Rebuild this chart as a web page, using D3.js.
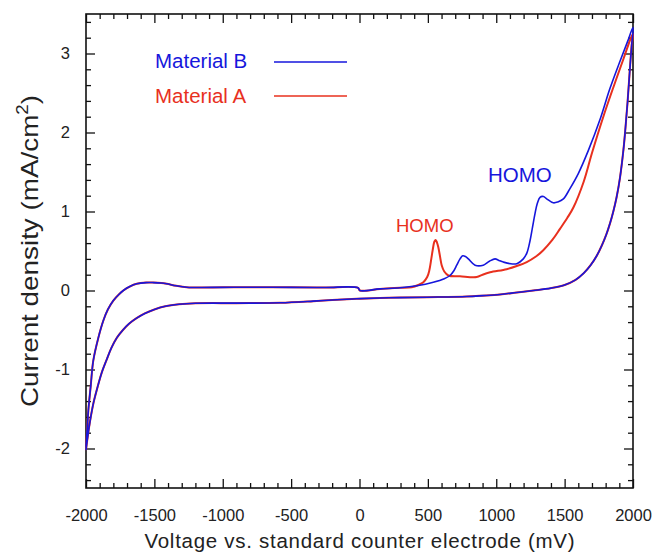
<!DOCTYPE html>
<html>
<head>
<meta charset="utf-8">
<script src="https://cdn.jsdelivr.net/npm/d3@7/dist/d3.min.js"></script>
<style>
  body { margin: 0; background: white; }
  text { font-family: "Liberation Sans", Arial, sans-serif; }
</style>
</head>
<body>
<div id="chart"></div>
<script>
// Data, [mV, mA/cm2]
// the shared left part of the forward scan
var sharedForward = [
  [-2000, -1.98], [-1990, -1.72], [-1983, -1.52], [-1965, -1.2], [-1947, -0.89], [-1910, -0.6],
  [-1873, -0.38], [-1840, -0.24], [-1800, -0.127], [-1760, -0.05], [-1727, 0.0], [-1680, 0.05],
  [-1629, 0.085], [-1560, 0.1], [-1508, 0.1], [-1450, 0.095], [-1410, 0.085], [-1340, 0.06],
  [-1264, 0.042], [-1000, 0.04], [-825, 0.042], [-500, 0.04], [-250, 0.038], [-11, 0.034],
  [3, 0.0], [150, 0.02], [296, 0.034]
]

var materialBForward = [
  [420, 0.06], [540, 0.105], [620, 0.15], [662, 0.19], [690, 0.25], [711, 0.32], [735, 0.4],
  [755, 0.44], [775, 0.43], [796, 0.4], [845, 0.32], [905, 0.32], [950, 0.37], [991, 0.4],
  [1020, 0.38], [1052, 0.36], [1100, 0.34], [1150, 0.34], [1198, 0.4], [1225, 0.48], [1247, 0.63],
  [1265, 0.8], [1283, 0.97], [1300, 1.1], [1320, 1.18], [1345, 1.19], [1369, 1.16], [1417, 1.11],
  [1450, 1.12], [1491, 1.16], [1539, 1.29], [1600, 1.48], [1673, 1.77], [1760, 2.17],
  [1830, 2.55], [1900, 2.88], [1960, 3.15], [2000, 3.33]
]

var materialAForward = [
  [382, 0.042], [430, 0.07], [467, 0.105], [495, 0.17], [510, 0.25], [525, 0.4], [535, 0.51],
  [548, 0.62], [557, 0.64], [566, 0.61], [576, 0.55], [590, 0.42], [601, 0.32], [620, 0.24],
  [650, 0.19], [735, 0.18], [857, 0.17], [900, 0.2], [955, 0.23], [1076, 0.27], [1150, 0.31],
  [1223, 0.36], [1290, 0.43], [1344, 0.51], [1410, 0.64], [1466, 0.78], [1520, 0.92],
  [1564, 1.05], [1640, 1.38], [1700, 1.74], [1783, 2.2], [1856, 2.57], [1930, 2.93],
  [1983, 3.19], [2000, 3.25]
]

// return scan, both materials lie on top of each other
var sharedReverse = [
  [1990, 3.1], [1975, 2.75], [1960, 2.38], [1945, 2.06], [1930, 1.78], [1905, 1.43],
  [1880, 1.18], [1856, 1.0], [1832, 0.85], [1805, 0.71], [1772, 0.57], [1735, 0.44],
  [1690, 0.32], [1640, 0.22], [1580, 0.135], [1500, 0.07], [1400, 0.03], [1271, 0.0],
  [1150, -0.025], [1027, -0.05], [900, -0.065], [784, -0.076], [500, -0.085], [296, -0.09],
  [150, -0.095], [-20, -0.105], [-200, -0.12], [-338, -0.135], [-581, -0.156], [-900, -0.16],
  [-1200, -0.162], [-1320, -0.175], [-1420, -0.2], [-1500, -0.24], [-1570, -0.29],
  [-1630, -0.35], [-1685, -0.42], [-1730, -0.5], [-1775, -0.6], [-1815, -0.73], [-1850, -0.88],
  [-1885, -1.04], [-1915, -1.22], [-1945, -1.42], [-1970, -1.65], [-1990, -1.88], [-2000, -2.02]
]

var xMajorTicks = [-2000, -1500, -1000, -500, 0, 500, 1000, 1500, 2000]
var yMajorTicks = [-2, -1, 0, 1, 2, 3]
var seriesNames = ['Material B', 'Material A']

var blue = '#1616dc'
var red = '#e8301e'

var chart = {
  width: 652,
  height: 552,
  left: 86,
  right: 633,
  top: 14,
  bottom: 488
}

var svg = d3.select('#chart').append('svg')
  .attr('width', chart.width)
  .attr('height', chart.height)

var x = d3.scaleLinear().domain([-2000, 2000]).range([chart.left, chart.right])
var y = d3.scaleLinear().domain([-2.5, 3.5]).range([chart.bottom, chart.top])

var xMinor = d3.range(-2000, 2001, 100).filter(function (d) { return d % 500 !== 0 })
var yMinor = d3.range(-2.4, 3.5, 0.2).map(function (d) { return Math.round(d * 10) / 10 })
  .filter(function (d) { return Math.abs(d - Math.round(d)) > 0.01 })

// plain hyphen for negatives, like the original
var plainFormat = function (d) { return String(d) }

function styleAxis(g) {
  g.select('.domain').remove()
  g.selectAll('line').attr('stroke', '#111').attr('stroke-width', 1.3)
  g.selectAll('text').attr('fill', '#222').style('font-size', '16.5px')
}

// bottom
svg.append('g').attr('transform', `translate(0,${chart.bottom})`)
  .call(d3.axisBottom(x).tickValues(xMajorTicks).tickSize(-9).tickPadding(21)
    .tickFormat(plainFormat))
  .call(styleAxis)
svg.append('g').attr('transform', `translate(0,${chart.bottom})`)
  .call(d3.axisBottom(x).tickValues(xMinor).tickSize(-5).tickFormat(''))
  .call(styleAxis)
// top
svg.append('g').attr('transform', `translate(0,${chart.top})`)
  .call(d3.axisTop(x).tickValues(xMajorTicks).tickSize(-9).tickFormat(''))
  .call(styleAxis)
svg.append('g').attr('transform', `translate(0,${chart.top})`)
  .call(d3.axisTop(x).tickValues(xMinor).tickSize(-5).tickFormat(''))
  .call(styleAxis)
// left
svg.append('g').attr('transform', `translate(${chart.left},0)`)
  .call(d3.axisLeft(y).tickValues(yMajorTicks).tickSize(-9).tickPadding(16)
    .tickFormat(plainFormat))
  .call(styleAxis)
svg.append('g').attr('transform', `translate(${chart.left},0)`)
  .call(d3.axisLeft(y).tickValues(yMinor).tickSize(-5).tickFormat(''))
  .call(styleAxis)
// right
svg.append('g').attr('transform', `translate(${chart.right},0)`)
  .call(d3.axisRight(y).tickValues(yMajorTicks).tickSize(-9).tickFormat(''))
  .call(styleAxis)
svg.append('g').attr('transform', `translate(${chart.right},0)`)
  .call(d3.axisRight(y).tickValues(yMinor).tickSize(-5).tickFormat(''))
  .call(styleAxis)

// frame
svg.append('rect')
  .attr('x', chart.left)
  .attr('y', chart.top)
  .attr('width', chart.right - chart.left)
  .attr('height', chart.bottom - chart.top)
  .attr('fill', 'none')
  .attr('stroke', '#111')
  .attr('stroke-width', 1.6)

// curves
var line = d3.line()
  .x(function (d) { return x(d[0]) })
  .y(function (d) { return y(d[1]) })
  .curve(d3.curveCatmullRom.alpha(0.5))

var loopA = sharedForward.concat(materialAForward, sharedReverse)
var loopB = sharedForward.concat(materialBForward, sharedReverse)

svg.append('path')
  .attr('d', line(loopA))
  .attr('fill', 'none')
  .attr('stroke', red)
  .attr('stroke-width', 2)

svg.append('path')
  .attr('d', line(loopB))
  .attr('fill', 'none')
  .attr('stroke', blue)
  .attr('stroke-width', 1.6)

// legend
var legend = svg.append('g')
legend.selectAll('text.legend')
  .data(seriesNames)
  .enter()
  .append('text')
  .attr('class', 'legend')
  .attr('x', 155)
  .attr('y', function (d, i) { return 68 + i * 35 })
  .attr('fill', function (d, i) { return i === 0 ? blue : red })
  .style('font-size', '20.5px')
  .text(function (d) { return d })
legend.selectAll('line.legend')
  .data(seriesNames)
  .enter()
  .append('line')
  .attr('class', 'legend')
  .attr('x1', 274)
  .attr('x2', 347)
  .attr('y1', function (d, i) { return 62 + i * 34 })
  .attr('y2', function (d, i) { return 62 + i * 34 })
  .attr('stroke', function (d, i) { return i === 0 ? blue : red })
  .attr('stroke-width', 1.6)

// peak labels
svg.append('text')
  .attr('x', 396)
  .attr('y', 232)
  .attr('fill', red)
  .style('font-size', '18.5px')
  .text('HOMO')
svg.append('text')
  .attr('x', 488)
  .attr('y', 182)
  .attr('fill', blue)
  .style('font-size', '20.5px')
  .text('HOMO')

// axis titles
svg.append('text')
  .attr('x', (chart.left + chart.right) / 2)
  .attr('y', 548)
  .attr('text-anchor', 'middle')
  .attr('fill', '#222')
  .attr('textLength', 430)
  .attr('lengthAdjust', 'spacing')
  .style('font-size', '20.5px')
  .text('Voltage vs. standard counter electrode (mV)')

var yTitle = svg.append('text')
  .attr('transform', `translate(38,${(chart.top + chart.bottom) / 2}) rotate(-90)`)
  .attr('text-anchor', 'middle')
  .attr('fill', '#222')
  .attr('textLength', 312)
  .attr('lengthAdjust', 'spacingAndGlyphs')
  .style('font-size', '24px')
yTitle.append('tspan').text('Current density (mA/cm')
yTitle.append('tspan').attr('dy', -10).style('font-size', '16px').text('2')
yTitle.append('tspan').attr('dy', 10).text(')')
</script>
</body>
</html>
